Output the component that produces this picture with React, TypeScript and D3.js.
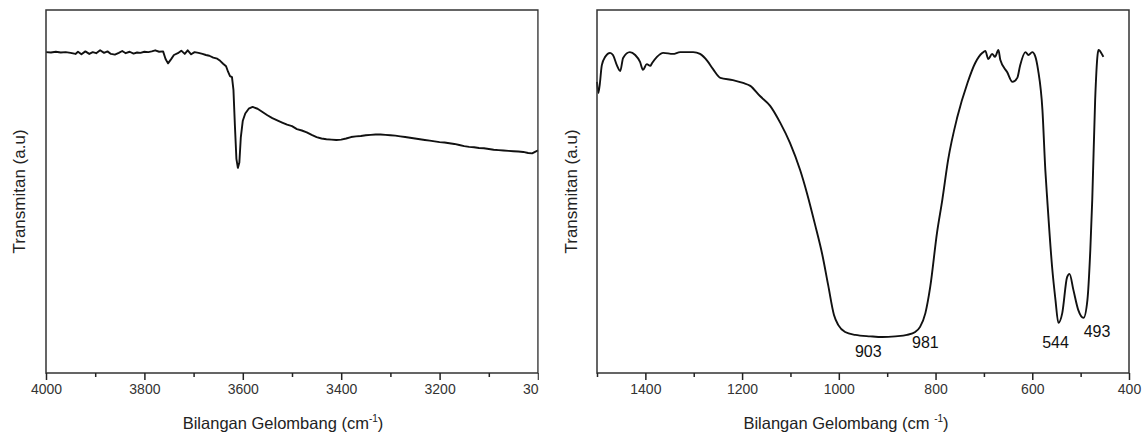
import React, { useEffect, useRef } from 'react';
import * as d3 from 'd3';

// left panel: 4000-3000 cm-1
const leftWave = [
  4000, 3990, 3980, 3970, 3960, 3950, 3940, 3935, 3928, 3920, 3912, 3905, 3898, 3890, 3882, 3875,
  3868, 3860, 3852, 3845, 3838, 3830, 3822, 3815, 3808, 3800, 3792, 3785, 3778, 3770, 3762, 3757,
  3752, 3746, 3740, 3732, 3725, 3718, 3712, 3705, 3698, 3690, 3682, 3675, 3668, 3660, 3652, 3646,
  3640, 3634, 3630, 3626, 3622, 3619, 3616, 3613, 3610, 3607, 3604, 3600, 3595, 3588, 3580, 3570,
  3560, 3550, 3540, 3530, 3520, 3510, 3500, 3490, 3480, 3470, 3460, 3450, 3440, 3430, 3420, 3410,
  3400, 3390, 3380, 3370, 3360, 3350, 3340, 3330, 3320, 3310, 3300, 3290, 3280, 3270, 3260, 3250,
  3240, 3230, 3220, 3210, 3200, 3190, 3180, 3170, 3160, 3150, 3140, 3130, 3120, 3110, 3100, 3090,
  3080, 3070, 3060, 3050, 3040, 3030, 3020, 3012, 3005, 3000
];
const leftTrans = [
  88.4, 88.3, 88.5, 88.3, 88.4, 88.2, 87.9, 88.5, 87.8, 88.6, 87.9, 88.4, 88.1, 88.9, 88.2, 88.6,
  87.9, 87.7, 88.2, 88.7, 88.1, 88.5, 88.0, 88.3, 88.2, 88.5, 88.4, 88.6, 88.9, 88.5, 88.6, 86.5,
  85.3, 86.4, 87.6, 88.1, 88.8, 87.9, 88.9, 87.8, 88.4, 88.2, 87.9, 87.6, 87.4, 86.9, 86.6, 86.0,
  85.2, 84.5, 83.0, 81.8, 81.5, 78.0, 68.0, 59.0, 56.5, 58.0, 65.0, 69.5, 71.5, 72.8, 73.3, 72.8,
  71.9, 71.0, 70.2, 69.6, 69.0, 68.4, 68.0, 67.2, 66.8, 66.3, 65.6, 65.0, 64.6, 64.4, 64.3, 64.2,
  64.3, 64.6, 65.0, 65.2, 65.3, 65.5, 65.6, 65.7, 65.7, 65.6, 65.5, 65.4, 65.2, 65.0, 64.8, 64.6,
  64.4, 64.2, 64.0, 63.8, 63.6, 63.5, 63.3, 63.1, 62.8, 62.5, 62.3, 62.2, 62.0, 61.9, 61.7, 61.5,
  61.4, 61.3, 61.2, 61.1, 61.0, 60.9, 60.6, 60.5, 61.0, 61.3
];

// right panel: 1500-400 cm-1
const rightWave = [
  1500, 1497, 1490, 1483, 1473, 1467, 1459, 1452, 1446, 1432, 1421, 1411, 1405, 1397, 1390, 1386,
  1376, 1363, 1343, 1328, 1301, 1287, 1272, 1260, 1245, 1219, 1198, 1183, 1163, 1142, 1121, 1101,
  1080, 1066, 1049, 1034, 1022, 1010, 1001, 987, 966, 935, 910, 883, 859, 842, 832, 821,
  811, 797, 786, 774, 755, 734, 718, 703, 697, 691, 683, 677, 670, 666, 652, 641,
  631, 625, 614, 608, 600, 594, 588, 579, 573, 569, 559, 552, 546, 538, 528, 523,
  515, 505, 494, 486, 480, 476, 470, 465, 463, 455, 453
];
const rightTrans = [
  80.2, 77.1, 84.8, 87.1, 88.2, 87.6, 84.8, 83.2, 86.8, 88.4, 87.6, 85.7, 83.5, 85.1, 84.6, 85.4,
  87.1, 88.2, 87.9, 88.4, 88.4, 87.9, 86.0, 83.7, 81.3, 80.7, 79.9, 79.1, 76.3, 73.6, 68.9, 63.4,
  55.9, 49.6, 40.8, 32.5, 24.2, 16.0, 13.2, 11.3, 10.5, 10.1, 9.9, 10.1, 10.5, 11.3, 12.7, 16.5,
  23.7, 38.6, 47.7, 58.7, 70.5, 79.9, 85.4, 88.2, 88.7, 86.5, 87.9, 87.1, 89.0, 86.2, 82.9, 80.2,
  81.3, 84.8, 88.4, 87.6, 88.4, 87.3, 83.5, 72.5, 55.9, 47.7, 29.2, 20.1, 13.8, 16.5, 26.4, 27.3,
  22.9, 17.4, 15.2, 20.1, 33.9, 47.7, 75.2, 87.6, 89.0, 87.6, 87.1
];

const leftTicks = [4000, 3800, 3600, 3400, 3200, 3000];
const rightTicks = [1400, 1200, 1000, 800, 600, 400];

const peakLabels = ['903', '981', '544', '493'];
const peakWave = [939, 821, 552, 466];
const peakTrans = [4.4, 6.9, 6.9, 9.9];

const font = 'Liberation Sans, Arial, sans-serif';

function drawPanel(svg, opt) {
  const { x0, x1, top, bottom, domain, wave, trans, ticks, clipX, titleX, yLabelX, unitGap, id } = opt;
  const x = d3.scaleLinear().domain(domain).range([x0, x1]);
  const y = d3.scaleLinear().domain([0, 100]).range([bottom, top]);

  const g = svg.append('g');
  if (clipX) {
    svg.append('clipPath').attr('id', id)
      .append('rect').attr('x', 0).attr('y', 0).attr('width', clipX).attr('height', 439);
    g.attr('clip-path', `url(#${id})`);
  }

  const line = d3.line()
    .x((d, i) => x(wave[i]))
    .y(d => y(d))
    .curve(opt.smooth ? d3.curveMonotoneX : d3.curveLinear);

  g.append('path')
    .datum(trans)
    .attr('fill', 'none')
    .attr('stroke', '#111')
    .attr('stroke-width', 1.9)
    .attr('stroke-linejoin', 'round')
    .attr('d', line);

  // frame
  g.append('rect')
    .attr('x', x0).attr('y', top)
    .attr('width', x1 - x0).attr('height', bottom - top)
    .attr('fill', 'none').attr('stroke', '#333').attr('stroke-width', 1.5);

  const step = Math.abs(ticks[1] - ticks[0]);
  const [lo, hi] = d3.extent(domain);
  const minor = d3.range(lo, hi + 1, step / 2).filter(v => !ticks.includes(v));

  g.append('g')
    .attr('transform', `translate(0,${bottom})`)
    .call(d3.axisBottom(x).tickValues(minor).tickSize(4).tickFormat(() => ''))
    .call(a => a.select('.domain').remove())
    .call(a => a.selectAll('line').attr('stroke', '#222').attr('stroke-width', 1.5));

  g.append('g')
    .attr('transform', `translate(0,${bottom})`)
    .call(d3.axisBottom(x).tickValues(ticks).tickSize(7).tickPadding(4).tickFormat(d3.format('d')))
    .call(a => a.select('.domain').remove())
    .call(a => a.selectAll('line').attr('stroke', '#222').attr('stroke-width', 1.5))
    .call(a => a.selectAll('text')
      .attr('font-family', font)
      .attr('font-size', 14)
      .attr('fill', '#333'));

  const title = svg.append('text')
    .attr('x', titleX).attr('y', 429)
    .attr('text-anchor', 'middle')
    .attr('font-family', font)
    .attr('font-size', 16.5)
    .attr('fill', '#222');
  title.append('tspan').text('Bilangan Gelombang (cm' + (unitGap ? ' ' : ''));
  title.append('tspan').attr('font-size', 10).attr('dy', -7).text('-1');
  title.append('tspan').attr('dy', 7).text(')');

  svg.append('text')
    .attr('transform', `translate(${yLabelX},${(top + bottom) / 2}) rotate(-90)`)
    .attr('text-anchor', 'middle')
    .attr('font-family', font)
    .attr('font-size', 17)
    .attr('fill', '#222')
    .text('Transmitan (a.u)');

  return { x, y, g };
}

export default function App() {
  const ref = useRef(null);

  useEffect(() => {
    const svg = d3.select(ref.current);
    svg.selectAll('*').remove();

    drawPanel(svg, {
      id: 'clipLeft', x0: 46, x1: 538, top: 10, bottom: 373, domain: [4000, 3000],
      wave: leftWave, trans: leftTrans, ticks: leftTicks, clipX: 538.8,
      titleX: 283, yLabelX: 25, unitGap: false, smooth: false
    });

    const right = drawPanel(svg, {
      id: 'clipRight', x0: 597, x1: 1129, top: 10, bottom: 373, domain: [1500, 400],
      wave: rightWave, trans: rightTrans, ticks: rightTicks, clipX: null,
      titleX: 846, yLabelX: 577, unitGap: true, smooth: true
    });

    svg.append('g')
      .selectAll('text')
      .data(peakLabels)
      .join('text')
      .attr('x', (d, i) => right.x(peakWave[i]))
      .attr('y', (d, i) => right.y(peakTrans[i]))
      .attr('text-anchor', 'middle')
      .attr('font-family', font)
      .attr('font-size', 16)
      .attr('fill', '#111')
      .text(d => d);
  }, []);

  return (
    <svg ref={ref} width={1144} height={439}
      style={{ position: 'absolute', left: 0, top: 0, background: '#fff' }} />
  );
}
